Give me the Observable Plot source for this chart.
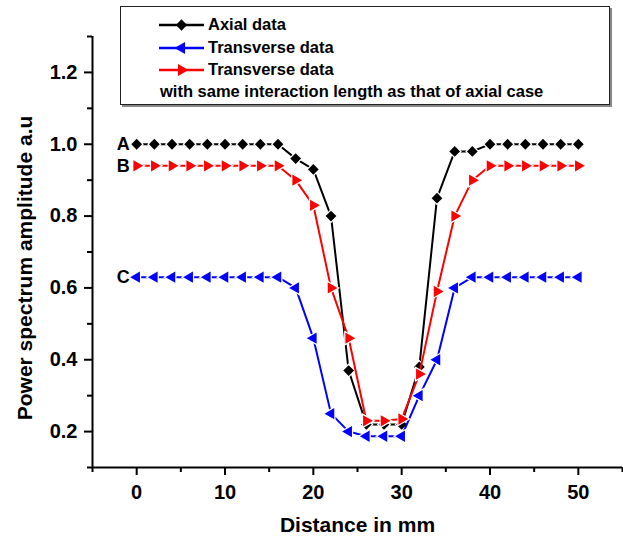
<!DOCTYPE html>
<html>
<head>
<meta charset="utf-8">
<script src="https://cdn.jsdelivr.net/npm/d3@7"></script>
<script src="https://cdn.jsdelivr.net/npm/@observablehq/plot@0.6"></script>
<style>
  html, body { margin: 0; padding: 0; background: #fff; }
  #wrap { position: relative; width: 623px; height: 541px; font-family: "Liberation Sans", Arial, sans-serif; font-weight: bold; }
  #legend { position: absolute; left: 120px; top: 6px; width: 490px; height: 99px; border: 1.5px solid #222; box-shadow: 2px 2px 0 #888; background: #fff; box-sizing: border-box; }
  .row { position: absolute; left: 0; height: 20px; display: flex; align-items: center; font-size: 16.5px; color: #000; white-space: nowrap; }
  .row svg { margin-left: 38px; margin-right: 4px; }
</style>
</head>
<body>
<div id="wrap"></div>
<script>
// ---- data ----
const distance = [0, 2, 4, 6, 8, 10, 12, 14, 16, 18, 20, 22, 24, 26, 28, 30, 32, 34, 36, 38, 40, 42, 44, 46, 48, 50];
const axial = [1.00, 1.00, 1.00, 1.00, 1.00, 1.00, 1.00, 1.00, 1.00, 0.96, 0.93, 0.80, 0.37, 0.22, 0.22, 0.22, 0.38, 0.85, 0.98, 0.98, 1.00, 1.00, 1.00, 1.00, 1.00, 1.00];
const transverse = [0.63, 0.63, 0.63, 0.63, 0.63, 0.63, 0.63, 0.63, 0.63, 0.60, 0.46, 0.25, 0.20, 0.187, 0.187, 0.187, 0.30, 0.40, 0.60, 0.63, 0.63, 0.63, 0.63, 0.63, 0.63, 0.63];
const transverseSame = [0.94, 0.94, 0.94, 0.94, 0.94, 0.94, 0.94, 0.94, 0.94, 0.90, 0.83, 0.60, 0.46, 0.23, 0.23, 0.235, 0.36, 0.59, 0.80, 0.90, 0.94, 0.94, 0.94, 0.94, 0.94, 0.94];
const seriesNames = ["Axial data", "Transverse data", "Transverse data"];
const seriesLabels = ["A", "C", "B"];
const xMajorTicks = [0, 10, 20, 30, 40, 50];
const xMinorTicks = [-5, 5, 15, 25, 35, 45, 55];
const yMajorTicks = [0.2, 0.4, 0.6, 0.8, 1.0, 1.2];
const yMinorTicks = [0.1, 0.3, 0.5, 0.7, 0.9, 1.1, 1.3];
const xTitle = "Distance in mm";
const yTitle = "Power spectrum amplitude a.u";
const legendNote = "with same interaction length as that of axial case";

// ---- symbols ----
const diamondSym = { draw(ctx, size) { const d = Math.sqrt(size / 2); ctx.moveTo(0, -d); ctx.lineTo(d, 0); ctx.lineTo(0, d); ctx.lineTo(-d, 0); ctx.closePath(); } };
function triSym(dir) {
  return { draw(ctx, size) {
    const a = Math.sqrt(4 * size / Math.sqrt(3)); const h = a * Math.sqrt(3) / 2;
    ctx.moveTo(dir * 2 * h / 3, 0); ctx.lineTo(-dir * h / 3, a / 2); ctx.lineTo(-dir * h / 3, -a / 2); ctx.closePath();
  } };
}
const series = [
  { key: "axial", values: axial, color: "#000000", symbol: diamondSym, r: 4.3 },
  { key: "transverse", values: transverse, color: "#0000ff", symbol: triSym(-1), r: 4.2 },
  { key: "transverseSame", values: transverseSame, color: "#ff0000", symbol: triSym(1), r: 4.2 }
];
const rows = series.map(s => distance.map((x, i) => ({ x, y: s.values[i] })));
const labelRows = series.map((s, i) => ({ x: distance[0], y: s.values[0], t: seriesLabels[i] }));

const marks = [];
// axes lines and ticks
marks.push(Plot.ruleY([0.1], { strokeWidth: 2 }));
marks.push(Plot.ruleX([-5], { strokeWidth: 2 }));
marks.push(Plot.ruleX(xMajorTicks, { x: d => d, y1: 0.1, y2: 0.1, insetBottom: -8, strokeWidth: 2 }));
marks.push(Plot.ruleX(xMinorTicks, { x: d => d, y1: 0.1, y2: 0.1, insetBottom: -5, strokeWidth: 2 }));
marks.push(Plot.ruleY(yMajorTicks, { y: d => d, x1: -5, x2: -5, insetLeft: -8, strokeWidth: 2 }));
marks.push(Plot.ruleY(yMinorTicks, { y: d => d, x1: -5, x2: -5, insetLeft: -5, strokeWidth: 2 }));
marks.push(Plot.text(xMajorTicks, { x: d => d, frameAnchor: "bottom", lineAnchor: "middle", dy: 25, text: d => String(d), fontSize: 20, fontWeight: "bold" }));
marks.push(Plot.text(yMajorTicks, { y: d => d, frameAnchor: "left", dx: -15, textAnchor: "end", text: d => d.toFixed(1), fontSize: 20, fontWeight: "bold" }));
marks.push(Plot.text([xTitle], { frameAnchor: "bottom", lineAnchor: "middle", textAnchor: "middle", dy: 58, text: d => d, fontSize: 21, fontWeight: "bold" }));
marks.push(Plot.text([yTitle], { frameAnchor: "left", lineAnchor: "middle", textAnchor: "middle", dx: -67, dy: 16, rotate: -90, text: d => d, fontSize: 21, fontWeight: "bold" }));
// series
series.forEach((s, k) => {
  marks.push(Plot.line(rows[k], { x: "x", y: "y", stroke: s.color, strokeWidth: 2 }));
  marks.push(Plot.dot(rows[k], { x: "x", y: "y", symbol: s.symbol, r: s.r, fill: s.color, stroke: "white", strokeWidth: 2.5, paintOrder: "stroke" }));
});
marks.push(Plot.text(labelRows, { x: "x", y: "y", text: "t", textAnchor: "end", dx: -7, fontSize: 18, fontWeight: "bold" }));

const chart = Plot.plot({
  width: 623, height: 541,
  marginLeft: 92, marginRight: 1, marginTop: 36, marginBottom: 74,
  x: { domain: [-5, 55], axis: null },
  y: { domain: [0.1, 1.3], axis: null },
  style: { fontFamily: "'Liberation Sans', Arial, sans-serif", fontWeight: "bold", fontSize: "20px", color: "#000", background: "#fff", overflow: "visible" },
  marks
});
const wrap = document.getElementById("wrap");
wrap.appendChild(chart);

// legend
const legend = document.createElement("div");
legend.id = "legend";
const rowTops = [7.5, 30.5, 52.5, 74.5];
series.forEach((s, i) => {
  const row = document.createElement("div");
  row.className = "row"; row.style.top = rowTops[i] + "px";
  const ns = "http://www.w3.org/2000/svg";
  const sv = document.createElementNS(ns, "svg");
  sv.setAttribute("width", 45); sv.setAttribute("height", 16);
  const ln = document.createElementNS(ns, "line");
  ln.setAttribute("x1", 0); ln.setAttribute("x2", 45); ln.setAttribute("y1", 8); ln.setAttribute("y2", 8);
  ln.setAttribute("stroke", s.color); ln.setAttribute("stroke-width", 2.5);
  sv.appendChild(ln);
  const p = d3.path(); s.symbol.draw(p, Math.PI * 4.5 * 4.5);
  const mk = document.createElementNS(ns, "path");
  mk.setAttribute("d", p.toString()); mk.setAttribute("transform", "translate(22.5,8)"); mk.setAttribute("fill", s.color);
  sv.appendChild(mk);
  row.appendChild(sv);
  const tx = document.createElement("span"); tx.textContent = seriesNames[i];
  row.appendChild(tx);
  legend.appendChild(row);
});
const note = document.createElement("div");
note.className = "row"; note.style.top = rowTops[3] + "px"; note.style.left = "39px";
note.textContent = legendNote;
legend.appendChild(note);
wrap.appendChild(legend);
</script>
</body>
</html>
